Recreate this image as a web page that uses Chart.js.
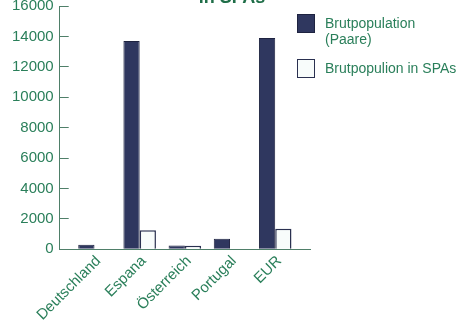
<!DOCTYPE html>
<html>
<head>
<meta charset="utf-8">
<script src="https://cdn.jsdelivr.net/npm/chart.js@4/dist/chart.umd.min.js"></script>
<style>
  html, body { margin: 0; padding: 0; background: #ffffff; overflow: hidden; }
  body { width: 458px; height: 327px; position: relative; font-family: "Liberation Sans", Arial, sans-serif; }
  #wrap { position: absolute; left: 0; top: -18px; width: 458px; height: 345px; }
  #title { position: absolute; top: -12px; left: 182px; width: 100px; text-align: center;
           font-size: 18px; line-height: 18px; font-weight: bold; color: #1f6e48; white-space: nowrap; }
  #legend { position: absolute; left: 297px; top: 14px; width: 161px; color: #2a7f5a; font-size: 14px; line-height: 16px; }
  .item { display: flex; align-items: flex-start; margin-bottom: 12px; }
  .box { width: 18px; height: 19px; box-sizing: border-box; flex: none; margin-right: 10px; }
  .txt { padding-top: 1px; width: 138px; }
</style>
</head>
<body>
<div id="wrap"><canvas id="c" width="458" height="345"></canvas></div>
<div id="title"></div>
<div id="legend"></div>
<script>
// Brutpopulation je Land und Anteil in SPAs
const categories = ['Deutschland', 'Espana', 'Österreich', 'Portugal', 'EUR'];
const brutpopulation = [300, 13700, 250, 700, 13900];
const brutpopulationSPA = [null, 1250, 230, null, 1350];
const seriesNames = ['Brutpopulation (Paare)', 'Brutpopulion in SPAs'];
const titleText = 'in SPAs';
const yMin = 0, yMax = 16000, yStep = 2000;

const green = '#2a7f5a';
const axisColor = '#4f7f69';
const font = '"Liberation Sans", Arial, sans-serif';

const toPoints = vals => vals.map((v, i) => ({ x: i, y: v }));

const datasets = [
  {
    label: seriesNames[0],
    data: toPoints(brutpopulation),
    backgroundColor: '#2f375f',
    borderColor: '#1e2340',
    borderWidth: 1
  },
  {
    label: seriesNames[1],
    data: toPoints(brutpopulationSPA),
    backgroundColor: '#f8fcfb',
    borderColor: '#2a3050',
    borderWidth: 1.5
  }
];

new Chart(document.getElementById('c'), {
  type: 'bar',
  data: { datasets },
  options: {
    responsive: false,
    animation: false,
    layout: { padding: { left: -3, right: 148, top: 4, bottom: 0 } },
    datasets: { bar: { categoryPercentage: 0.72, barPercentage: 1 } },
    plugins: {
      legend: { display: false },
      tooltip: { enabled: false },
      title: { display: false }
    },
    scales: {
      x: {
        type: 'linear',
        offset: false,
        min: -0.77,
        max: categories.length - 1 + 0.77,
        afterBuildTicks: scale => { scale.ticks = categories.map((_, i) => ({ value: i })); },
        afterFit: scale => { scale.paddingLeft = 0; scale.paddingRight = 0; },
        grid: { display: true, offset: false, drawOnChartArea: false, drawTicks: false },
        border: { display: true, color: axisColor, width: 1 },
        ticks: {
          autoSkip: false,
          minRotation: 45,
          maxRotation: 45,
          padding: 3,
          labelOffset: 4,
          color: green,
          font: { family: font, size: 15 },
          callback: v => categories[v]
        }
      },
      y: {
        min: yMin,
        max: yMax,
        grid: { display: true, drawOnChartArea: false, drawTicks: true, tickLength: -9, color: axisColor },
        border: { display: true, color: axisColor, width: 1 },
        ticks: {
          stepSize: yStep,
          padding: 15,
          color: green,
          font: { family: font, size: 15 },
          callback: v => String(v)
        }
      }
    }
  }
});

document.getElementById('title').textContent = titleText;

// Legend built from the dataset definitions
const legend = document.getElementById('legend');
datasets.forEach(ds => {
  const item = document.createElement('div');
  item.className = 'item';
  const box = document.createElement('div');
  box.className = 'box';
  box.style.background = ds.backgroundColor;
  box.style.border = '1px solid ' + ds.borderColor;
  const txt = document.createElement('div');
  txt.className = 'txt';
  txt.textContent = ds.label;
  item.appendChild(box);
  item.appendChild(txt);
  legend.appendChild(item);
});
</script>
</body>
</html>
